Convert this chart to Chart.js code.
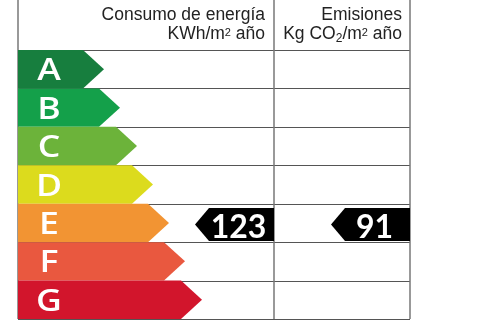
<!DOCTYPE html>
<html>
<head>
<meta charset="utf-8">
<script src="https://cdn.jsdelivr.net/npm/chart.js@4.4.1/dist/chart.umd.min.js"></script>
<style>
html,body{margin:0;padding:0;background:#fff;}
canvas{display:block;}
</style>
</head>
<body>
<canvas id="c" width="480" height="320"></canvas>
<script>
// ---- data ----
const categories = ['A', 'B', 'C', 'D', 'E', 'F', 'G'];
const arrowLengths = [86, 102, 119, 135, 151, 167, 184];   // tip position of each rating arrow
const columnEdges = [0, 256, 392];                           // table column boundaries
const headerTop = ['Consumo de energía', 'Emisiones'];
const consumoValue = 123;
const emisionesValue = 91;
const consumoRating = 'E';
const emisionesRating = 'E';

// ---- styles ----
const arrowColors = ['#177e3e', '#14a04a', '#6cb33a', '#dcdb1d', '#f29433', '#e9583f', '#d2152c'];
const HEAD = 21, TAG_W = 79, TAG_H = 33, TAG_NOTCH = 14;

function drawRich(ctx, parts, rightX, baseY) {
  let total = 0;
  parts.forEach(p => { ctx.font = p.font; p.w = ctx.measureText(p.t).width; total += p.w; });
  let x = rightX - total;
  ctx.textAlign = 'left';
  ctx.textBaseline = 'alphabetic';
  parts.forEach(p => { ctx.font = p.font; ctx.fillText(p.t, x, baseY + (p.dy || 0)); x += p.w; });
}

const ratingPlugin = {
  id: 'rating',
  beforeDatasetsDraw(chart) {
    const ctx = chart.ctx, xs = chart.scales.x, ys = chart.scales.y;
    const left = xs.getPixelForValue(columnEdges[0]);
    const mid = xs.getPixelForValue(columnEdges[1]);
    const right = xs.getPixelForValue(columnEdges[2]);
    const band = (ys.bottom - ys.top) / categories.length;
    ctx.save();
    ctx.strokeStyle = '#555';
    ctx.lineWidth = 1;
    for (let i = 0; i <= categories.length; i++) {
      const yb = Math.round(ys.top + i * band) + 0.5;
      ctx.beginPath(); ctx.moveTo(left, yb); ctx.lineTo(right, yb); ctx.stroke();
    }
    ctx.strokeStyle = '#777';
    ctx.lineWidth = 1.5;
    [left, mid, right].forEach(xp => {
      ctx.beginPath(); ctx.moveTo(xp, 0); ctx.lineTo(xp, ys.bottom); ctx.stroke();
    });
    ctx.restore();
  },
  afterDatasetsDraw(chart) {
    const ctx = chart.ctx, xs = chart.scales.x, ys = chart.scales.y;
    const meta = chart.getDatasetMeta(0);
    ctx.save();
    meta.data.forEach((el, i) => {
      const p = el.getProps(['x', 'y', 'base', 'height'], true);
      const h2 = p.height / 2;
      ctx.fillStyle = arrowColors[i];
      ctx.beginPath();
      ctx.moveTo(p.base, p.y - h2);
      ctx.lineTo(p.x - HEAD, p.y - h2);
      ctx.lineTo(p.x, p.y);
      ctx.lineTo(p.x - HEAD, p.y + h2);
      ctx.lineTo(p.base, p.y + h2);
      ctx.closePath();
      ctx.fill();
      ctx.save();
      ctx.fillStyle = '#fff';
      ctx.font = '600 31px "Open Sans"';
      ctx.textAlign = 'center';
      ctx.textBaseline = 'alphabetic';
      ctx.translate(p.base + 31, p.y + 11);
      ctx.scale(1.15, 1);
      ctx.fillText(categories[i], 0, 0);
      ctx.restore();
    });

    // value tags
    const tags = [
      { v: consumoValue, r: consumoRating, edge: columnEdges[1] },
      { v: emisionesValue, r: emisionesRating, edge: columnEdges[2] }
    ];
    tags.forEach(t => {
      const right = xs.getPixelForValue(t.edge);
      const cy = ys.getPixelForValue(categories.indexOf(t.r)) + 1.5;
      const tip = right - TAG_W;
      ctx.fillStyle = '#000';
      ctx.beginPath();
      ctx.moveTo(tip, cy);
      ctx.lineTo(tip + TAG_NOTCH, cy - TAG_H / 2);
      ctx.lineTo(right, cy - TAG_H / 2);
      ctx.lineTo(right, cy + TAG_H / 2);
      ctx.lineTo(tip + TAG_NOTCH, cy + TAG_H / 2);
      ctx.closePath();
      ctx.fill();
      ctx.fillStyle = '#fff';
      ctx.font = 'bold 32px Lato';
      ctx.textAlign = 'center';
      ctx.textBaseline = 'alphabetic';
      ctx.fillText(String(t.v), right - TAG_W / 2 + 4, cy + 13.5);
    });

    // header
    const midX = xs.getPixelForValue(columnEdges[1]) - 9;
    const rightX = xs.getPixelForValue(columnEdges[2]) - 8;
    const F = '17.5px "Liberation Sans", Arial, sans-serif';
    const S = '11px "Liberation Sans", Arial, sans-serif';
    const B = '12px "Liberation Sans", Arial, sans-serif';
    ctx.fillStyle = '#222';
    ctx.font = F;
    ctx.textAlign = 'right';
    ctx.textBaseline = 'alphabetic';
    ctx.fillText(headerTop[0], midX, 20);
    ctx.fillText(headerTop[1], rightX, 20);
    drawRich(ctx, [
      { t: 'KWh/m', font: F },
      { t: '2', font: S, dy: -3 },
      { t: ' año', font: F }
    ], midX, 39);
    drawRich(ctx, [
      { t: 'Kg CO', font: F },
      { t: '2', font: B, dy: 3 },
      { t: '/m', font: F },
      { t: '2', font: S, dy: -3 },
      { t: ' año', font: F }
    ], rightX, 39);
    ctx.restore();
  }
};

new Chart(document.getElementById('c'), {
  type: 'bar',
  data: {
    labels: categories,
    datasets: [{
      data: arrowLengths,
      backgroundColor: 'rgba(0,0,0,0)',
      borderWidth: 0,
      barPercentage: 1,
      categoryPercentage: 1
    }]
  },
  options: {
    indexAxis: 'y',
    responsive: false,
    animation: false,
    devicePixelRatio: 1,
    layout: { padding: { left: 18, right: 70, top: 50, bottom: 1 } },
    plugins: { legend: { display: false }, tooltip: { enabled: false } },
    scales: {
      x: { display: false, min: columnEdges[0], max: columnEdges[2] },
      y: { display: false }
    }
  },
  plugins: [ratingPlugin]
});
</script>
</body>
</html>
